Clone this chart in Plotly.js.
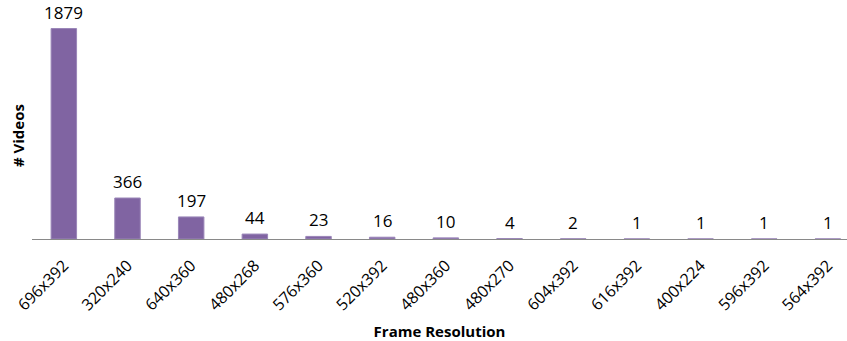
<!DOCTYPE html>
<html>
<head>
<meta charset="utf-8">
<script src="https://cdn.plot.ly/plotly-3.0.1.min.js"></script>
<style>
  html, body { margin: 0; padding: 0; background: #fff; overflow: hidden; }
  #chart { width: 847px; height: 341px; }
</style>
</head>
<body>
<div id="chart"></div>
<script>
// Frame resolutions and the number of videos at each one
const resolutions = ["696x392", "320x240", "640x360", "480x268", "576x360", "520x392",
                     "480x360", "480x270", "604x392", "616x392", "400x224", "596x392", "564x392"];
const videoCounts = [1879, 366, 197, 44, 23, 16, 10, 4, 2, 1, 1, 1, 1];

const font = "'Open Sans', 'Liberation Sans', sans-serif";
const barColor = "#8064A2";

const trace = {
  type: "bar",
  x: resolutions,
  y: videoCounts,
  marker: { color: barColor, line: { width: 1, color: "#9a86b8" } },
  hoverinfo: "x+y"
};

// Count labels sit just above each bar
const countLabels = resolutions.map((r, i) => ({
  x: r,
  y: videoCounts[i],
  xref: "x",
  yref: "y",
  text: String(videoCounts[i]),
  showarrow: false,
  yanchor: "bottom",
  yshift: 3,
  font: { family: font, size: 17, color: "#000" }
}));

const layout = {
  width: 847,
  height: 341,
  margin: { l: 32, r: 0, t: 15, b: 102 },
  paper_bgcolor: "#fff",
  plot_bgcolor: "#fff",
  bargap: 0.6,
  showlegend: false,
  xaxis: {
    type: "category",
    range: [-0.5, 12.3],
    showline: true,
    linecolor: "#898989",
    linewidth: 1,
    ticks: "",
    tickangle: -45,
    ticklabelstandoff: 10,
    tickfont: { family: font, size: 16, color: "#000" },
    showgrid: false,
    zeroline: false,
    fixedrange: true,
    title: {
      text: "<b>Frame Resolution</b>",
      font: { family: font, size: 15, color: "#000" },
      standoff: 12
    }
  },
  yaxis: {
    range: [0, 2000],
    showticklabels: false,
    showgrid: false,
    zeroline: false,
    showline: false,
    ticks: "",
    fixedrange: true
  },
  annotations: countLabels.concat([{
    text: "<b># Videos</b>",
    xref: "paper",
    yref: "paper",
    x: -0.017,
    y: 0.46,
    xanchor: "center",
    yanchor: "middle",
    textangle: -90,
    showarrow: false,
    font: { family: font, size: 15, color: "#000" }
  }])
};

Plotly.newPlot("chart", [trace], layout, { displayModeBar: false, staticPlot: true });
</script>
</body>
</html>
